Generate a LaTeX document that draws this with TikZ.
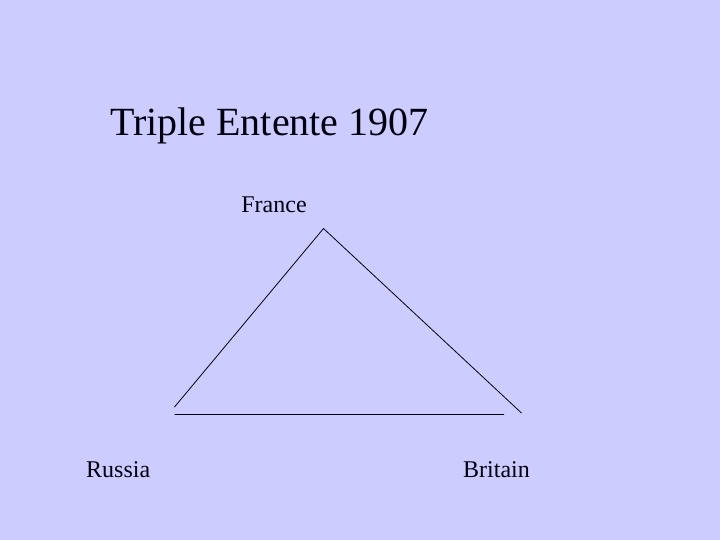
\documentclass[tikz,border=0pt]{standalone}
\usepackage{fontspec}
\setmainfont{Liberation Serif}
\usepackage{xcolor}
\definecolor{slidebg}{HTML}{CCCCFF}
\definecolor{ink}{HTML}{000011}

\begin{document}
\begin{tikzpicture}[x=1pt,y=-1pt,
    country/.style={inner sep=0pt,text=ink,font=\fontsize{24}{29}\selectfont},
    side/.style={draw=ink,line width=0.8pt}]
    % Slide background
    \fill[slidebg] (0,0) rectangle (720,540);
    \useasboundingbox (0,0) rectangle (720,540);
    % Title
    \node[anchor=base west,inner sep=0pt,text=ink,font=\fontsize{40}{48}\selectfont]
        (title) at (110,136) {Triple Entente 1907};
    % Powers
    \node[country,anchor=base] (france) at (274,212) {France};
    \node[country,anchor=base west] (russia) at (86,477) {Russia};
    \node[country,anchor=base west] (britain) at (463,477) {Britain};
    % Corners of the triangle
    \coordinate (apex) at (323.5,228.5);
    \coordinate (leftend) at (174.5,407);
    \coordinate (rightend) at (521.5,413);
    \coordinate (baseL) at (174.5,414.5);
    \coordinate (baseR) at (504,414.5);
    \draw[side]
    (apex) -- (leftend)
    (apex) -- (rightend)
    (baseL) -- (baseR)
    ;
\end{tikzpicture}
\end{document}
